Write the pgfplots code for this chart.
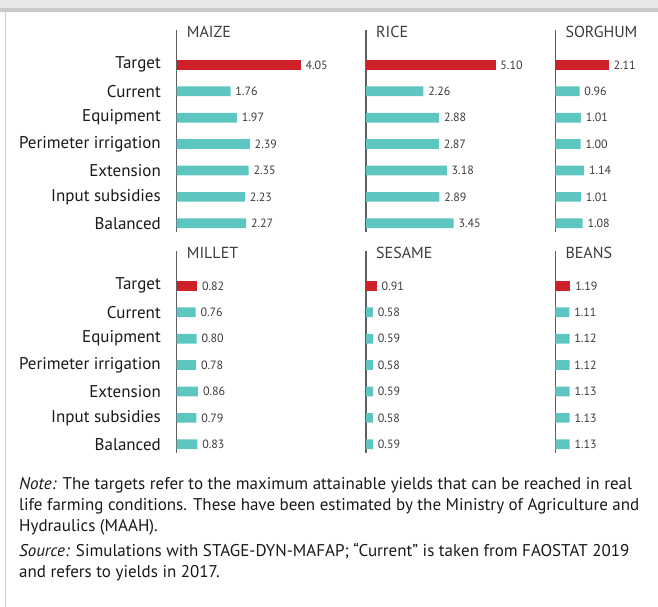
\documentclass[border=0pt]{standalone}
\usepackage{fontspec}
\setmainfont{PT Sans}
\usepackage{pgfplots}
\pgfplotsset{compat=1.18}

\definecolor{tgtred}{RGB}{205,32,41}
\definecolor{barteal}{RGB}{94,198,192}
\definecolor{axisgray}{RGB}{95,95,95}
\definecolor{valgray}{RGB}{60,60,60}
\definecolor{labblack}{RGB}{25,25,25}
\definecolor{bandgray}{RGB}{230,231,232}
\definecolor{bandline}{RGB}{200,201,202}
\definecolor{framegray}{RGB}{205,205,205}

\newcommand{\labfont}{\fontsize{17}{19}\selectfont}
\newcommand{\valfont}{\fontsize{12}{14}\selectfont}
\newcommand{\titlefont}{\fontsize{16}{18}\selectfont}
\newcommand{\notefont}{\fontsize{17}{21.5}\selectfont}

\pgfplotsset{
  panel/.style={
    xbar, bar width=9.7pt, bar shift=0pt,
    scale only axis, anchor=north west,
    y=26.4pt, xmin=0, ymin=-0.32, ymax=7.32,
    axis y line=left, axis x line=none,
    axis line style={-, draw=axisgray, line width=1.3pt},
    ytick=\empty, major tick length=0pt, ytick style={draw=none},
    clip=false,
    nodes near coords, point meta=x,
    nodes near coords style={anchor=west, inner sep=0pt, xshift=4.7pt,
      font=\valfont, text=valgray},
    /pgf/number format/fixed, /pgf/number format/fixed zerofill,
    /pgf/number format/precision=2, /pgf/number format/assume math mode=true,
    title style={at={(0,1)}, anchor=north west, inner sep=0pt,
      xshift=10pt, yshift=-2.3pt, font=\titlefont, text=valgray},
  },
  cats/.style={
    ytick={0,...,6},
    yticklabels={Balanced, Input subsidies, Extension,
      {Perimeter irrigation\hspace{4pt}}, Equipment, Current, Target},
    yticklabel style={font=\labfont, text=labblack, inner sep=0pt,
      anchor=east, xshift=-15.7pt},
  },
}

\begin{document}
\begin{tikzpicture}
\path[use as bounding box] (0pt,0pt) rectangle (658pt,-607pt);
\fill[bandgray] (0pt,0pt) rectangle (658pt,-8.3pt);
\fill[bandline] (0pt,-8.3pt) rectangle (658pt,-12.3pt);
\draw[framegray, line width=1pt] (5.5pt,-12.3pt) -- (5.5pt,-607pt);

% row 1
\begin{axis}[panel, cats, at={(176.7pt,-30pt)}, x=30.6pt, xmax=5.5, title={MAIZE}]
\addplot[fill=barteal, draw=none] coordinates {(2.27,0) (2.23,1) (2.35,2) (2.39,3) (1.97,4) (1.76,5)};
\addplot[fill=tgtred, draw=none] coordinates {(4.05,6)};
\end{axis}
\begin{axis}[panel, at={(366pt,-30pt)}, x=25.4pt, xmax=6.5, title={RICE}]
\addplot[fill=barteal, draw=none] coordinates {(3.45,0) (2.89,1) (3.18,2) (2.87,3) (2.88,4) (2.26,5)};
\addplot[fill=tgtred, draw=none] coordinates {(5.10,6)};
\end{axis}
\begin{axis}[panel, at={(555.3pt,-30pt)}, x=25.3pt, xmax=3.5, title={SORGHUM}]
\addplot[fill=barteal, draw=none] coordinates {(1.08,0) (1.01,1) (1.14,2) (1.00,3) (1.01,4) (0.96,5)};
\addplot[fill=tgtred, draw=none] coordinates {(2.11,6)};
\end{axis}

% row 2
\begin{axis}[panel, cats, at={(176.7pt,-251pt)}, x=25.0pt, xmax=6, title={MILLET}]
\addplot[fill=barteal, draw=none] coordinates {(0.83,0) (0.79,1) (0.86,2) (0.78,3) (0.80,4) (0.76,5)};
\addplot[fill=tgtred, draw=none] coordinates {(0.82,6)};
\end{axis}
\begin{axis}[panel, at={(366pt,-251pt)}, x=11.9pt, xmax=12, title={SESAME}]
\addplot[fill=barteal, draw=none] coordinates {(0.59,0) (0.58,1) (0.59,2) (0.58,3) (0.59,4) (0.58,5)};
\addplot[fill=tgtred, draw=none] coordinates {(0.91,6)};
\end{axis}
\begin{axis}[panel, at={(555.3pt,-251pt)}, x=12.7pt, xmax=7, title={BEANS}]
\addplot[fill=barteal, draw=none] coordinates {(1.13,0) (1.13,1) (1.13,2) (1.12,3) (1.12,4) (1.11,5)};
\addplot[fill=tgtred, draw=none] coordinates {(1.19,6)};
\end{axis}

% note and source
\begin{scope}[every node/.style={anchor=base west, inner sep=0pt, font=\notefont, text=labblack}]
\node at (19pt,-489pt) {\textit{Note:} The targets refer to the maximum attainable yields that can be reached in real};
\node at (19pt,-510.5pt) {life farming conditions. These have been estimated by the Ministry of Agriculture and};
\node at (19pt,-531pt) {Hydraulics (MAAH).};
\node at (19pt,-556.5pt) {\textit{Source:} Simulations with STAGE-DYN-MAFAP; “Current” is taken from FAOSTAT 2019};
\node at (19pt,-577.5pt) {and refers to yields in 2017.};
\end{scope}
\end{tikzpicture}
\end{document}
